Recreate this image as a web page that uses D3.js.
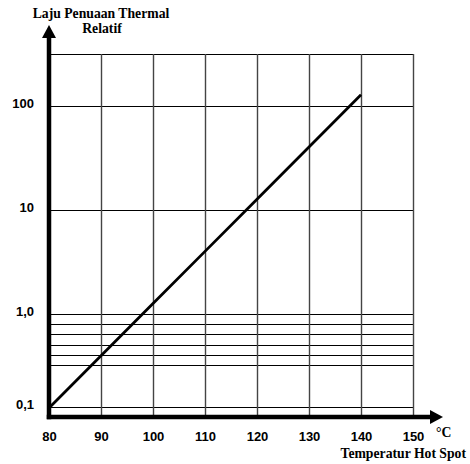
<!DOCTYPE html>
<html>
<head>
<meta charset="utf-8">
<script src="https://cdn.jsdelivr.net/npm/d3@7"></script>
<style>
  body { margin: 0; background: #fff; }
  .tick text { font-family: "Liberation Sans", Arial, sans-serif; font-weight: bold; font-size: 13px; fill: #000; }
  .judul { font-family: "Liberation Serif", "Times New Roman", serif; font-weight: bold; font-size: 13.7px; }
</style>
</head>
<body>
<div class="grafik"></div>
<script>
/* Data */
const suhu = [80, 90, 100, 110, 120, 130, 140];
const laju = [0.125, 0.397, 1.26, 4.0, 12.7, 40.3, 128];

const xTicks = [80, 90, 100, 110, 120, 130, 140, 150];
const yTicks = [100, 10, 1, 0.128];
const yTickLabels = ['100', '10', '1,0', '0,1'];
const gridMayor = [316, 100, 10, 1];
const gridMinor = [0.8, 0.64, 0.5, 0.4, 0.32, 0.128];

const w = 470;
const h = 464;

/* Escalas */
const x = d3.scaleLinear().domain([80, 150]).range([49, 413]);
const y = d3.scaleLog().domain([0.1, 316]).range([418, 54]);

const svg = d3.select('.grafik')
  .append('svg')
  .attr('width', w)
  .attr('height', h);

/* Grid horizontal */
svg.selectAll('line.gh')
  .data(gridMayor.concat(gridMinor))
  .enter()
  .append('line')
  .attr('class', 'gh')
  .attr('x1', x(80))
  .attr('x2', x(150))
  .attr('y1', d => Math.round(y(d)) + 0.5)
  .attr('y2', d => Math.round(y(d)) + 0.5)
  .attr('stroke', '#000')
  .attr('stroke-width', 1);

/* Grid vertical */
svg.selectAll('line.gv')
  .data(xTicks.slice(1))
  .enter()
  .append('line')
  .attr('class', 'gv')
  .attr('x1', d => Math.round(x(d)) + 0.5)
  .attr('x2', d => Math.round(x(d)) + 0.5)
  .attr('y1', y(316))
  .attr('y2', y(0.1))
  .attr('stroke', '#444')
  .attr('stroke-width', 1.4);

/* Garis laju penuaan */
const line = d3.line()
  .x((d, i) => x(suhu[i]))
  .y(d => y(d));

svg.append('path')
  .datum(laju)
  .attr('d', line)
  .attr('fill', 'none')
  .attr('stroke', '#000')
  .attr('stroke-width', 2.8);

/* Sumbu tebal + panah */
const x0 = x(80), y0 = y(0.1) - 1;
svg.append('line')
  .attr('x1', x0).attr('x2', x0)
  .attr('y1', y0 + 2.25).attr('y2', 36)
  .attr('stroke', '#000').attr('stroke-width', 4.5);
svg.append('path')
  .attr('d', `M${x0 - 7},38 L${x0},25 L${x0 + 7},38 Z`)
  .attr('fill', '#000');

svg.append('line')
  .attr('x1', x0 - 2.25).attr('x2', 432)
  .attr('y1', y0).attr('y2', y0)
  .attr('stroke', '#000').attr('stroke-width', 4.5);
svg.append('path')
  .attr('d', `M430,${y0 - 7} L443,${y0} L430,${y0 + 7} Z`)
  .attr('fill', '#000');

/* Label sumbu */
const xAxis = d3.axisBottom(x).tickValues(xTicks).tickSize(0).tickPadding(15);
const gx = svg.append('g')
  .attr('transform', `translate(0,${y0})`)
  .call(xAxis);
gx.select('.domain').remove();

const yAxis = d3.axisLeft(y).tickValues(yTicks).tickSize(0).tickPadding(15)
  .tickFormat((d, i) => yTickLabels[i]);
const gy = svg.append('g')
  .attr('transform', `translate(${x0},0)`)
  .call(yAxis);
gy.select('.domain').remove();
gy.selectAll('text').attr('dy', '0.1em');

/* Judul */
svg.append('text').attr('class', 'judul')
  .attr('x', 101).attr('y', 18).attr('text-anchor', 'middle')
  .text('Laju Penuaan Thermal');
svg.append('text').attr('class', 'judul')
  .attr('x', 102).attr('y', 33).attr('text-anchor', 'middle')
  .text('Relatif');

svg.append('text').attr('class', 'judul')
  .attr('x', 436).attr('y', 437)
  .text('°C');
svg.append('text').attr('class', 'judul')
  .attr('x', 466).attr('y', 458).attr('text-anchor', 'end')
  .text('Temperatur Hot Spot');
</script>
</body>
</html>
